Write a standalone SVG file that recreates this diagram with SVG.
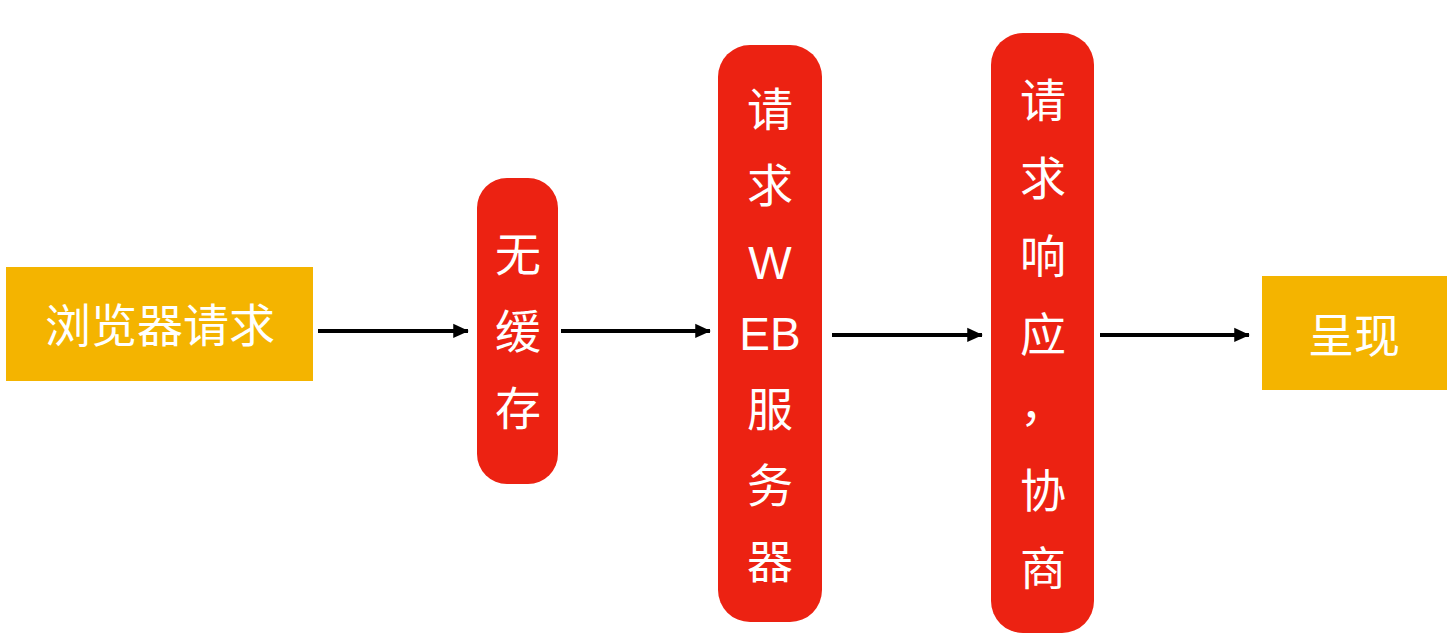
<svg xmlns="http://www.w3.org/2000/svg" width="1454" height="636" viewBox="0 0 1454 636">
<style>
.o{fill:#F4B400}.r{fill:#EC2212}
text{font-family:"Liberation Sans","Noto Sans CJK SC",sans-serif;font-size:46px;fill:#fff;text-anchor:middle;dominant-baseline:central}
.c{stroke:#000;stroke-width:4;fill:none;marker-end:url(#a)}
</style>
<defs><marker id="a" viewBox="0 0 10 10" refX="9" refY="5" markerWidth="7" markerHeight="6" markerUnits="userSpaceOnUse" orient="auto" style="overflow:visible"><path d="M0,0L10,5L0,10z" fill="#000" transform="scale(2.6,2.4) translate(-6,-3)"/></marker></defs>
<rect width="1454" height="636" fill="#fff"/>
<g id="connectors">
<path class="c" d="M318,331H468"/>
<path class="c" d="M561,331H710"/>
<path class="c" d="M832,335H982"/>
<path class="c" d="M1100,335H1249"/>
</g>
<g id="n1"><rect class="o" x="6" y="267" width="307" height="114"/><text x="160" y="326">浏览器请求</text></g>
<g id="n2"><rect class="r" x="477" y="178" width="81" height="306" rx="30"/>
<text x="518" y="255">无</text><text x="518" y="332">缓</text><text x="518" y="409">存</text></g>
<g id="n3"><rect class="r" x="718" y="45" width="104" height="577" rx="32"/>
<text x="770" y="110">请</text><text x="770" y="186">求</text><text x="770" y="263">W</text><text x="770" y="334">EB</text><text x="770" y="410">服</text><text x="770" y="486">务</text><text x="770" y="562">器</text></g>
<g id="n4"><rect class="r" x="991" y="33" width="103" height="600" rx="32"/>
<text x="1043" y="101">请</text><text x="1043" y="179">求</text><text x="1043" y="257">响</text><text x="1043" y="335">应</text><text x="1043" y="405">，</text><text x="1043" y="491">协</text><text x="1043" y="569">商</text></g>
<g id="n5"><rect class="o" x="1262" y="276" width="185" height="114"/><text x="1354" y="336">呈现</text></g>
</svg>
